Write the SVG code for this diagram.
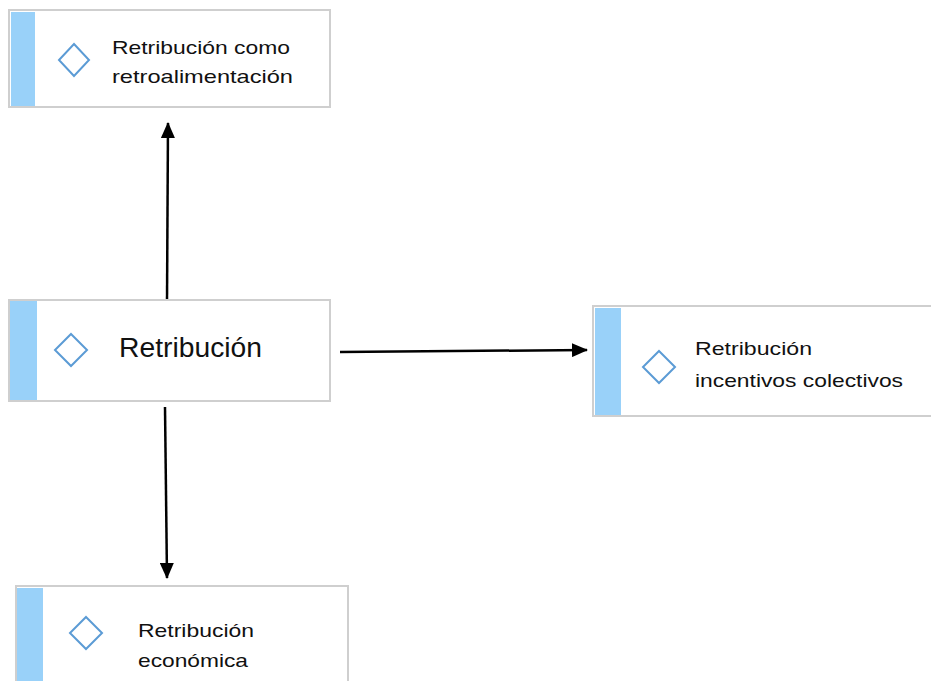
<svg xmlns="http://www.w3.org/2000/svg" width="931" height="681" viewBox="0 0 931 681">
<style>
.box{fill:#fff;stroke:#cfcfcf;stroke-width:2}
.strip{fill:#99d1f9}
.dia{fill:none;stroke:#5b9bd5;stroke-width:2}
.t{font-family:"Liberation Sans",Arial,sans-serif;font-size:19px;fill:#111}
.tm{font-family:"Liberation Sans",Arial,sans-serif;font-size:27px;fill:#111}
.c{stroke:#000;stroke-width:2.5;fill:none;marker-end:url(#ah)}
</style>
<defs>
<marker id="ah" viewBox="0 0 16 14" refX="15" refY="7" markerWidth="16" markerHeight="14" markerUnits="userSpaceOnUse" orient="auto">
<path d="M0,0 L16,7 L0,14 Z" fill="#000"/>
</marker>
</defs>
<rect width="931" height="681" fill="#fff"/>
<g id="connectors">
<path class="c" d="M167,302 L168,123"/>
<path class="c" d="M340,352 L587,350"/>
<path class="c" d="M165,407 L167,578"/>
</g>
<g id="n1">
<rect class="box" x="9" y="10" width="321" height="97"/>
<rect class="strip" x="11" y="12" width="24" height="94"/>
<path class="dia" d="M74,44 L89,60 L74,76 L59,60 Z"/>
<text class="t" x="112" y="54" textLength="178" lengthAdjust="spacingAndGlyphs">Retribución como</text>
<text class="t" x="112" y="83" textLength="181" lengthAdjust="spacingAndGlyphs">retroalimentación</text>
</g>
<g id="n2">
<rect class="box" x="9" y="300" width="321" height="101"/>
<rect class="strip" x="10" y="301" width="27" height="99"/>
<path class="dia" d="M71,334 L87,350 L71,366 L55,350 Z"/>
<text class="tm" x="119" y="357" textLength="143" lengthAdjust="spacingAndGlyphs">Retribución</text>
</g>
<g id="n3">
<rect class="box" x="593" y="306" width="345" height="110"/>
<rect class="strip" x="595" y="308" width="26" height="107"/>
<path class="dia" d="M659,351 L675,367 L659,383 L643,367 Z"/>
<text class="t" x="695" y="355" textLength="117" lengthAdjust="spacingAndGlyphs">Retribución</text>
<text class="t" x="695" y="387" textLength="208" lengthAdjust="spacingAndGlyphs">incentivos colectivos</text>
</g>
<g id="n4">
<rect class="box" x="16" y="586" width="332" height="110"/>
<rect class="strip" x="17" y="588" width="26" height="100"/>
<path class="dia" d="M86,617 L102,633 L86,649 L70,633 Z"/>
<text class="t" x="138" y="637" textLength="116" lengthAdjust="spacingAndGlyphs">Retribución</text>
<text class="t" x="138" y="667" textLength="110" lengthAdjust="spacingAndGlyphs">económica</text>
</g>
</svg>
